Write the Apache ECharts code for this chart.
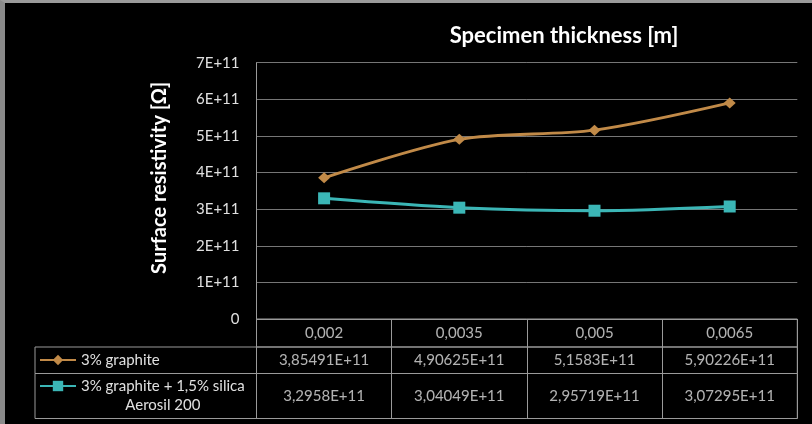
<!DOCTYPE html>
<html>
<head>
<meta charset="utf-8">
<script src="https://cdn.jsdelivr.net/npm/echarts@6/dist/echarts.min.js"></script>
<style>
  html, body { margin: 0; padding: 0; background: #000; }
  #wrap { position: relative; width: 812px; height: 424px; }
  #chart { position: absolute; left: 0; top: 0; width: 812px; height: 424px; }
  #frame { position: absolute; left: 0; top: 0; width: 807px; height: 421px;
           border-left: 5px solid #8a8a8a; border-top: 3px solid #9a9a9a; pointer-events: none; }
</style>
</head>
<body>
<div id="wrap"><div id="chart"></div><div id="frame"></div></div>
<script>
const categories = [0.002, 0.0035, 0.005, 0.0065];
const graphite = [3.85491e11, 4.90625e11, 5.1583e11, 5.90226e11];
const silica = [3.2958e11, 3.04049e11, 2.95719e11, 3.07295e11];
const seriesNames = ['3% graphite', '3% graphite + 1,5% silica Aerosil 200'];
const yMin = 0, yMax = 7e11, yStep = 1e11;

const FONT = 'Lato';
const TXT = '#e0e0e0';
const TABLE_LINE = '#9a9a9a';
const ORANGE = '#c18a48';
const TEAL = '#3bb6b6';
const TFS = 15;

const catLabels = categories.map(v => String(v).replace('.', ','));
const excelNum = v => v.toExponential().replace('.', ',').replace('e', 'E');

const L = 256.5, R = 812 - 797.3;
const rows = [
  { top: 319, height: 28 },
  { top: 347, height: 26.5 },
  { top: 373.5, height: 45 }
];

const grids = [
  { left: L, right: R, top: 62.7, height: 319 - 62.7, show: false },
  ...rows.map(r => ({ left: L, right: R, top: r.top, height: r.height, show: true,
                      borderColor: TABLE_LINE, borderWidth: 1, backgroundColor: 'transparent' })),
  { left: 35, width: L - 35, top: rows[1].top, height: rows[1].height, show: true,
    borderColor: TABLE_LINE, borderWidth: 1, backgroundColor: 'transparent' },
  { left: 35, width: L - 35, top: rows[2].top, height: rows[2].height, show: true,
    borderColor: TABLE_LINE, borderWidth: 1, backgroundColor: 'transparent' }
];

const xAxes = [
  { type: 'category', gridIndex: 0, data: catLabels, boundaryGap: true,
    axisLine: { show: true, lineStyle: { color: TABLE_LINE, width: 1 } },
    axisTick: { show: false }, axisLabel: { show: false }, splitLine: { show: false } }
];
const yAxes = [
  { type: 'value', gridIndex: 0, min: yMin, max: yMax, interval: yStep,
    axisLine: { show: true, lineStyle: { color: TABLE_LINE, width: 1 } },
    axisTick: { show: false },
    splitLine: { show: true, lineStyle: { color: '#767676', width: 1 } },
    axisLabel: { color: TXT, fontFamily: FONT, fontSize: 15, margin: 17,
                 formatter: v => v === 0 ? '0' : (v / 1e11) + 'E+11' },
    name: 'Surface resistivity [Ω]', nameLocation: 'middle', nameGap: 87, nameRotate: 90,
    nameTextStyle: { color: '#ffffff', fontFamily: FONT, fontWeight: 'bold', fontSize: 20,
                     padding: [0, 0, 0, 26] } }
];
for (let g = 1; g <= 3; g++) {
  xAxes.push({ type: 'category', gridIndex: g, data: catLabels, boundaryGap: true,
    axisLine: { show: false }, axisTick: { show: false }, axisLabel: { show: false },
    splitLine: { show: true, interval: 0, lineStyle: { color: TABLE_LINE, width: 1 } } });
  yAxes.push({ type: 'value', gridIndex: g, min: -1, max: 1, show: false, splitLine: { show: false } });
}
for (let g = 4; g <= 5; g++) {
  xAxes.push({ type: 'value', gridIndex: g, min: 0, max: 1, show: false, splitLine: { show: false } });
  yAxes.push({ type: 'value', gridIndex: g, min: -1, max: 1, show: false, splitLine: { show: false } });
}

function tableRow(gridIdx, texts) {
  return {
    type: 'scatter', xAxisIndex: gridIdx, yAxisIndex: gridIdx, silent: true,
    symbolSize: 1, itemStyle: { color: 'transparent' },
    data: texts.map((t, i) => ({ value: [i, 0], label: { formatter: t } })),
    label: { show: true, position: 'inside', color: TXT, fontFamily: FONT, fontSize: TFS },
    emphasis: { disabled: true }
  };
}

const option = {
  backgroundColor: '#000000',
  animation: false,
  title: {
    text: 'Specimen thickness [m]', left: 564, top: 25, textAlign: 'center', padding: 0,
    textStyle: { color: '#ffffff', fontFamily: FONT, fontWeight: 'bold', fontSize: 22 }
  },
  legend: [
    { data: [seriesNames[0]], left: 39, top: 350.5, padding: 0, itemWidth: 36, itemHeight: 13,
      selectedMode: false,
      textStyle: { color: TXT, fontFamily: FONT, fontSize: TFS, lineHeight: 19 } },
    { data: [seriesNames[1]], left: 39, top: 357.5, padding: 0, itemWidth: 36, itemHeight: 13,
      selectedMode: false,
      formatter: () => '{a|3% graphite + 1,5% silica}\n{b|Aerosil 200}',
      textStyle: { color: TXT, fontFamily: FONT, fontSize: TFS, lineHeight: 19, padding: [19, 0, 0, 0],
        rich: {
          a: { color: TXT, fontFamily: FONT, fontSize: TFS, lineHeight: 19, align: 'left' },
          b: { color: TXT, fontFamily: FONT, fontSize: TFS, lineHeight: 19, align: 'center' }
        } } }
  ],
  grid: grids,
  xAxis: xAxes,
  yAxis: yAxes,
  series: [
    { name: seriesNames[0], type: 'line', xAxisIndex: 0, yAxisIndex: 0, data: graphite,
      smooth: 0.3, symbol: 'diamond', symbolSize: [12, 11],
      lineStyle: { color: ORANGE, width: 3 }, itemStyle: { color: ORANGE } },
    { name: seriesNames[1], type: 'line', xAxisIndex: 0, yAxisIndex: 0, data: silica,
      smooth: 0.3, symbol: 'rect', symbolSize: 12,
      lineStyle: { color: TEAL, width: 3 }, itemStyle: { color: TEAL } },
    tableRow(1, catLabels),
    tableRow(2, graphite.map(excelNum)),
    tableRow(3, silica.map(excelNum))
  ]
};

const chart = echarts.init(document.getElementById('chart'));
chart.setOption(option);
</script>
</body>
</html>
